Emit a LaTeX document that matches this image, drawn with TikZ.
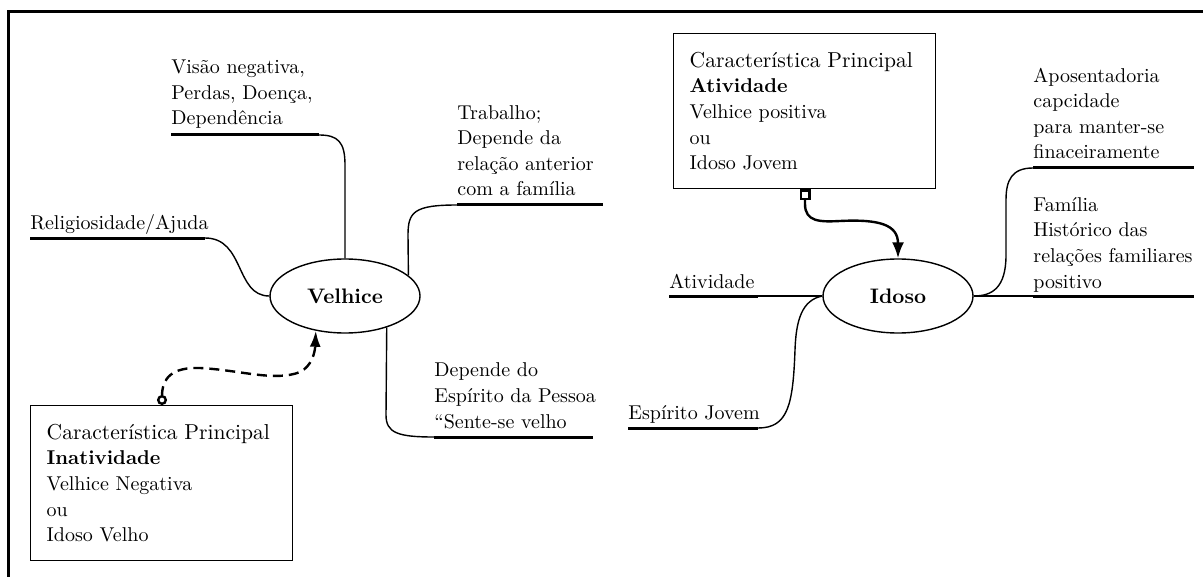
\documentclass[tikz,border=0pt]{standalone}
\usepackage{amsmath}
\usepackage{amssymb}
\usetikzlibrary{arrows.meta,shapes.geometric,calc}
\begin{document}
\begin{tikzpicture}[x=0.5pt,y=0.5pt,
  rotulo/.style={anchor=base west,inner sep=0pt,align=left,font=\fontsize{10}{12.8}\selectfont},
  ramo/.style={line width=1.5pt},
  liga/.style={line width=0.7pt},
  seta/.style={line width=1.2pt},
  elipse/.style={draw,ellipse,line width=0.7pt,minimum width=75pt,minimum height=37pt,font=\fontsize{10.5}{13}\selectfont\bfseries},
  caixa/.style={draw,line width=0.7pt,anchor=north west,text width=115pt,inner xsep=8pt,minimum height=77.5pt,align=left,font=\fontsize{10}{12.8}\selectfont}]
\useasboundingbox (0,0) rectangle (1203,-577);
\draw[line width=1.5pt] (8,-577) -- (8,-12) -- (1203,-12);
\node[elipse] (velhice) at (345,-296) {Velhice};
\node[elipse] (idoso) at (898,-296) {Idoso};
\node[caixa] (carInat) at (30,-405) {{\fontsize{10.8}{14}\selectfont\mbox{Característica Principal}}\\\textbf{Inatividade}\\Velhice Negativa\\ou\\Idoso Velho};
\node[caixa] (carAtiv) at (673,-33) {{\fontsize{10.8}{14}\selectfont\mbox{Característica Principal}}\\\textbf{Atividade}\\Velhice positiva\\ou\\Idoso Jovem};
\coordinate (visA) at (171,-135); \coordinate (visB) at (319,-135);
\coordinate (trabA) at (457,-205); \coordinate (trabB) at (603,-205);
\coordinate (relA) at (30,-238); \coordinate (relB) at (205,-238);
\coordinate (espA) at (434,-437); \coordinate (espB) at (593,-437);
\coordinate (apoA) at (1033,-168); \coordinate (apoB) at (1194,-168);
\coordinate (famA) at (1033,-296); \coordinate (famB) at (1194,-296);
\coordinate (atA) at (669,-296); \coordinate (atB) at (758,-296);
\coordinate (ejA) at (628,-428); \coordinate (ejB) at (758,-428);
\node[rotulo] (visao) at (171,-125) {Visão negativa,\\Perdas, Doença,\\Dependência};
\node[rotulo] (trabalho) at (457,-196) {Trabalho;\\Depende da\\relação anterior\\com a família};
\node[rotulo] (religiao) at (30,-229) {Religiosidade/Ajuda};
\node[rotulo] (espirito) at (434,-428) {Depende do\\Espírito da Pessoa\\“Sente-se velho};
\node[rotulo] (aposenta) at (1033,-159) {Aposentadoria\\capcidade\\para manter-se\\finaceiramente};
\node[rotulo] (familia) at (1033,-288) {Família\\Histórico das\\relações familiares\\positivo};
\node[rotulo] (atividade) at (669,-288) {Atividade};
\node[rotulo] (jovem) at (628,-419) {Espírito Jovem};
\draw[ramo] (visA) -- (visB);
\draw[liga] (visB) .. controls (338,-135) and (345,-142) .. (345,-165) -- (velhice.north);
\draw[ramo] (trabA) -- (trabB);
\draw[liga] (trabA) .. controls (414,-205) and (408,-212) .. (408,-235) -- (velhice.18);
\draw[ramo] (relA) -- (relB);
\draw[liga] (relB) .. controls (245,-238) and (235,-296) .. (velhice.west);
\draw[ramo] (espA) -- (espB);
\draw[liga] (velhice.-37) -- (386,-415) .. controls (386,-433) and (398,-437) .. (espA);
\draw[ramo] (apoA) -- (apoB);
\draw[liga] (apoA) .. controls (1012,-168) and (1006,-180) .. (1006,-200) -- (1006,-255) .. controls (1006,-288) and (992,-296) .. (idoso.east);
\draw[ramo] (famA) -- (famB);
\draw[liga] (idoso.east) -- (famA);
\draw[ramo] (atA) -- (atB);
\draw[liga] (atB) -- (idoso.west);
\draw[ramo] (ejA) -- (ejB);
\draw[liga] (idoso.west) .. controls (802,-300) and (796,-320) .. (795,-350) .. controls (793,-405) and (788,-428) .. (ejB);
\draw[seta,dash pattern=on 5pt off 3pt,{Circle[open,length=5pt,width=5pt]}-{Latex[length=8pt,width=5.5pt]}] ($(carInat.north west)+(132,0)$) .. controls (162,-378) and (172,-367) .. (200,-368) .. controls (240,-370) and (275,-382) .. (300,-372) .. controls (312,-366) and (315,-352) .. (velhice.-130);
\draw[seta,{Square[open,length=5.5pt,width=5.5pt]}-{Latex[length=8pt,width=6pt]}] ($(carAtiv.south west)+(132,0)$) -- (805,-204) .. controls (805,-222) and (820,-222) .. (840,-221) .. controls (880,-219) and (898,-225) .. (idoso.north);
\end{tikzpicture}
\end{document}
